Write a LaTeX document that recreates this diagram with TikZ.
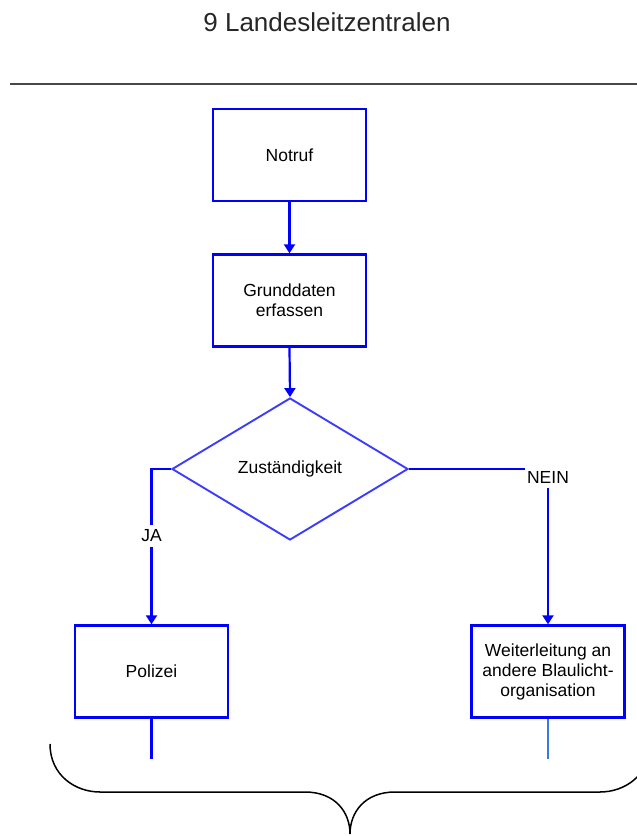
\documentclass[tikz,border=0pt]{standalone}
\usepackage{fontspec}
\setmainfont{Liberation Sans}
\usetikzlibrary{arrows.meta,shapes.geometric}
\definecolor{fblue}{RGB}{0,0,255}
\definecolor{dblue}{RGB}{60,60,255}
\definecolor{lblue}{RGB}{60,120,225}
\tikzset{
  procbox/.style={draw=fblue, line width=2.4pt, fill=white, minimum width=153pt, minimum height=92pt, inner sep=0pt, align=center, font=\fontsize{17.5}{20}\selectfont},
  decbox/.style={draw=dblue, line width=1.9pt, diamond, aspect=1.66, minimum width=236pt, minimum height=142pt, inner sep=0pt, font=\fontsize{17.5}{20}\selectfont},
  flow/.style={draw=fblue, line width=2.2pt, -{Triangle[width=11pt,length=9pt]}},
  plainflow/.style={draw=fblue, line width=2.2pt},
  lbl/.style={fill=white, inner xsep=2pt, inner ysep=5pt, font=\fontsize{17.5}{20}\selectfont},
}
\begin{document}
\begin{tikzpicture}[x=1pt,y=-1pt]
\useasboundingbox (0,0) rectangle (637,836);
\node[font=\fontsize{26}{30}\selectfont, text=black!85] (title) at (327,22) {9 Landesleitzentralen};
\coordinate (hl) at (10,84);
\coordinate (hr) at (637,84);
\draw[line width=2.4pt, black!72] (hl) -- (hr);
\node[procbox] (notruf) at (289.5,155) {Notruf};
\node[procbox] (grund) at (289.5,300.5) {Grunddaten\\erfassen};
\node[decbox] (zust) at (290,469) {Zuständigkeit};
\node[procbox] (pol) at (151.5,671.5) {Polizei};
\node[procbox] (weit) at (548,671.5) {Weiterleitung an\\andere Blaulicht-\\organisation};
\draw[flow] (notruf.south) -- (grund.north);
\draw[flow] (grund.south) -- (zust.north);
\draw[flow] (zust.west) -| (pol.north);
\draw[flow] (zust.east) -| (weit.north);
\node[lbl] (ja) at (151.5,536) {JA};
\node[lbl] (nein) at (548,477) {NEIN};
\coordinate (pend) at (151.5,759);
\coordinate (wend) at (548,759);
\draw[plainflow] (pol.south) -- (pend);
\draw[lblue, line width=1.3pt] (weit.south) -- (wend);
\coordinate (bl) at (50,744);
\coordinate (bt) at (350,834);
\coordinate (br) at (650,744);
\draw[black, line width=1.5pt] (bl) .. controls (50,775) and (75,792) .. (100,792) -- (305,792) .. controls (335,792) and (350,812) .. (bt)
  .. controls (350,812) and (365,792) .. (395,792) -- (600,792) .. controls (625,792) and (650,775) .. (br);
\end{tikzpicture}
\end{document}
